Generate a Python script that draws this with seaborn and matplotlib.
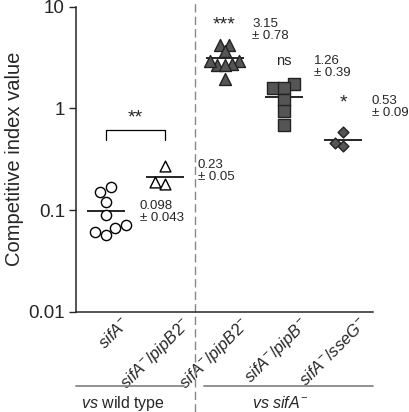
import numpy as np
import pandas as pd
import seaborn as sns
import matplotlib.pyplot as plt
from matplotlib.markers import MarkerStyle
from matplotlib.transforms import Affine2D, ScaledTranslation, blended_transform_factory

# competitive index values
sifa = [0.121, 0.151, 0.170, 0.089, 0.071, 0.067, 0.057, 0.061]
sifa_pipb2_wt = [0.27, 0.19, 0.18]
sifa_pipb2 = [4.2, 4.2, 3.7, 2.9, 2.7, 2.75, 2.9, 2.65, 1.95]
sifa_pipb = [1.73, 1.60, 1.58, 1.21, 0.94, 0.69]
sifa_sseg = [0.59, 0.43, 0.46]

groups = ["sifA", "sifA/pipB2 wt", "sifA/pipB2", "sifA/pipB", "sifA/sseG"]
tick_labels = [r"$\mathit{sifA^{-}}$", r"$\mathit{sifA^{-}/pipB2^{-}}$",
               r"$\mathit{sifA^{-}/pipB2^{-}}$", r"$\mathit{sifA^{-}/pipB^{-}}$",
               r"$\mathit{sifA^{-}/sseG^{-}}$"]
stats = ["0.098\n± 0.043", "0.23\n± 0.05", "3.15\n± 0.78", "1.26\n± 0.39", "0.53\n± 0.09"]
stat_pos = [(0.57, 0.095), (1.55, 0.24), (2.47, 5.9), (3.51, 2.57), (4.48, 1.04)]
signif = ["**", "***", "ns", "*"]
signif_pos = [(0.5, 0.80), (2.0, 6.6), (3.0, 2.9), (4.0, 1.13)]

df = pd.DataFrame({
    "group": np.repeat(groups, [len(sifa), len(sifa_pipb2_wt), len(sifa_pipb2),
                                len(sifa_pipb), len(sifa_sseg)]),
    "ci": sifa + sifa_pipb2_wt + sifa_pipb2 + sifa_pipb + sifa_sseg,
})

sns.set_style("ticks")
plt.rcParams["font.family"] = ["Liberation Sans", "DejaVu Sans"]
plt.rcParams["mathtext.fontset"] = "custom"
plt.rcParams["mathtext.rm"] = "Liberation Sans"
plt.rcParams["mathtext.it"] = "Liberation Sans:italic"

fig = plt.figure(figsize=(4.09, 4.12), dpi=100)
ax = fig.add_axes([0.186, 0.2434, 0.726, 0.7403])
ax.set_yscale("log")
ax.set_ylim(0.01, 10)

# size = spacing used by the swarm, grow = how much bigger the drawn marker is
styles = [
    dict(marker="o", size=7.0, grow=1.05, color="white"),
    dict(marker="^", size=6.5, grow=1.2, color="white"),
    dict(marker="^", size=4.2, grow=2.05, color="#555555"),
    dict(marker="s", size=6.2, grow=1.3, color="#555555"),
    dict(marker="D", size=5.0, grow=1.1, color="#555555"),
]
for g, st in zip(groups, styles):
    edge = "black" if st["color"] == "white" else "#222222"
    mk = MarkerStyle(st["marker"], transform=Affine2D().scale(st["grow"]))
    sns.swarmplot(data=df[df.group == g], x="group", y="ci", order=groups,
                  marker=mk, size=st["size"], color=st["color"],
                  edgecolor=edge, linewidth=1, ax=ax)

# mean lines
for i, g in enumerate(groups):
    m = df.loc[df.group == g, "ci"].mean()
    ax.hlines(m, i - 0.32, i + 0.32, color="black", lw=1.2, zorder=1)

ax.set_xlim(-0.5, 4.5)
ax.set_ylim(0.01, 10)
ax.set_yticks([0.01, 0.1, 1, 10])
ax.set_yticklabels(["0.01", "0.1", "1", "10"], fontsize=13.5)
ax.yaxis.set_minor_locator(plt.NullLocator())
ax.tick_params(axis="y", length=5, width=1, pad=3)
ax.set_ylabel("Competitive index value", fontsize=14.5, labelpad=3)
ax.set_xlabel("")
ax.set_xticks(range(5))
ax.set_xticklabels(tick_labels, rotation=45, ha="right", rotation_mode="anchor",
                   fontsize=12)
ax.tick_params(axis="x", length=0, pad=2)
off = ScaledTranslation(0.16, 0, fig.dpi_scale_trans)
for lab in ax.get_xticklabels():
    lab.set_transform(lab.get_transform() + off)
sns.despine(ax=ax)
for sp in ["left", "bottom"]:
    ax.spines[sp].set_linewidth(1.1)

# stats text
for t, (x, y) in zip(stats, stat_pos):
    ax.text(x, y, t, ha="left", va="center", fontsize=9.5, linespacing=1.0)
for t, (x, y) in zip(signif, signif_pos):
    ax.text(x, y, t, ha="center", va="center",
            fontsize=10.5 if t == "ns" else 14)

# bracket between the two wild-type comparisons
ax.plot([0, 0, 1, 1], [0.49, 0.61, 0.61, 0.49], color="black", lw=0.9)

# divider and group labels
ax.axvline(1.5, ymin=-0.33, ymax=1.023, clip_on=False, color="#888888",
           lw=1.0, ls=(0, (6, 3)))
tr = blended_transform_factory(ax.transData, ax.transAxes)
ax.plot([-0.5, 1.31], [-0.244, -0.244], transform=tr, clip_on=False,
        color="#888888", lw=1.3)
ax.plot([1.65, 4.5], [-0.244, -0.244], transform=tr, clip_on=False,
        color="#888888", lw=1.3)
ax.text(0.29, -0.30, r"$\mathit{vs}$ wild type", transform=tr, ha="center",
        va="center", fontsize=11.5)
ax.text(2.94, -0.30, r"$\mathit{vs\ sifA^{-}}$", transform=tr, ha="center",
        va="center", fontsize=11.5)

fig.savefig("out.png", dpi=100)
